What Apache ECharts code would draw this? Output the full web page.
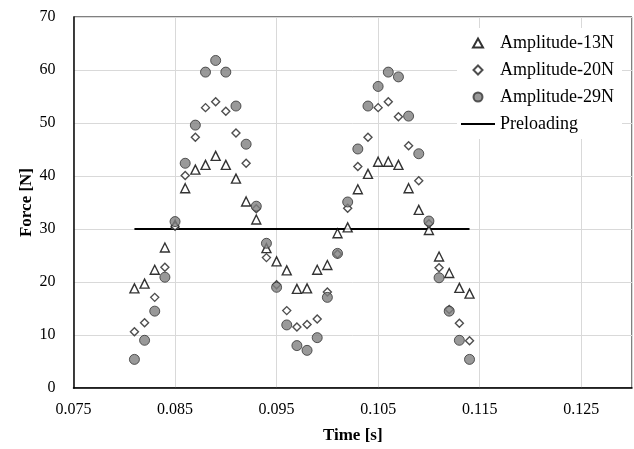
<!DOCTYPE html>
<html>
<head>
<meta charset="utf-8">
<script src="https://cdn.jsdelivr.net/npm/echarts@6/dist/echarts.min.js"></script>
<style>
  html, body { margin: 0; padding: 0; background: #fff; }
  #chart { width: 634px; height: 449px; }
</style>
</head>
<body>
<div id="chart"></div>
<script>
// Force vs time for three amplitudes, with the preload level.
const times = [
  0.081, 0.082, 0.083, 0.084, 0.085, 0.086, 0.087, 0.088, 0.089, 0.090,
  0.091, 0.092, 0.093, 0.094, 0.095, 0.096, 0.097, 0.098, 0.099, 0.100,
  0.101, 0.102, 0.103, 0.104, 0.105, 0.106, 0.107, 0.108, 0.109, 0.110,
  0.111, 0.112, 0.113, 0.114,
];

const amp13 = [
  18.8, 19.7, 22.3, 26.5, 30.8, 37.7, 41.2, 42.1, 43.8, 42.1,
  39.5, 35.2, 31.8, 26.4, 23.9, 22.2, 18.7, 18.8, 22.3, 23.2,
  29.2, 30.3, 37.5, 40.4, 42.7, 42.7, 42.1, 37.7, 33.6, 29.8,
  24.8, 21.7, 18.9, 17.8,
];

const amp20 = [
  10.6, 12.3, 17.1, 22.8, 30.5, 40.1, 47.3, 52.9, 54.0, 52.2,
  48.1, 42.4, 33.8, 24.6, 19.5, 14.6, 11.5, 12.0, 13.0, 18.1,
  25.3, 33.9, 41.8, 47.3, 52.9, 54.0, 51.2, 45.7, 39.1, 31.0,
  22.7, 14.8, 12.2, 8.9,
];

const amp29 = [
  5.4, 9.0, 14.5, 20.9, 31.4, 42.4, 49.6, 59.6, 61.8, 59.6,
  53.2, 46.0, 34.3, 27.3, 19.0, 11.9, 8.0, 7.1, 9.5, 17.1,
  25.4, 35.1, 45.1, 53.2, 56.9, 59.6, 58.7, 51.3, 44.2, 31.5,
  20.8, 14.5, 9.0, 5.4,
];

const preloadTimes = [0.081, 0.114];
const preloadForce = [30, 30];

const seriesNames = ["Amplitude-13N", "Amplitude-20N", "Amplitude-29N", "Preloading"];

const FONT = "'Liberation Serif', 'Times New Roman', serif";

// legend icons as paths so they keep their aspect inside the icon box
const ICON_TRIANGLE = "path://M5,0 L10,9 L0,9 Z";
const ICON_DIAMOND = "path://M4,0 L8,4 L4,8 L0,4 Z";
const ICON_LINE = "path://M0,0 L34,0 L34,2 L0,2 Z";

function pairs(xs, ys) {
  return xs.map((x, i) => [x, ys[i]]);
}

const chart = echarts.init(document.getElementById("chart"));

chart.setOption({
  backgroundColor: "#fff",
  animation: false,
  textStyle: { fontFamily: FONT },
  grid: {
    left: 73.5,
    right: 2,
    top: 17,
    bottom: 59,
    show: true,
    borderColor: "#000",
    borderWidth: 1,
  },
  legend: {
    orient: "vertical",
    left: 457,
    top: 28,
    padding: [6, 8, 6, 4],
    backgroundColor: "#fff",
    itemWidth: 34,
    itemHeight: 9,
    itemGap: 9,
    symbolKeepAspect: true,
    data: [
      { name: seriesNames[0], icon: ICON_TRIANGLE },
      { name: seriesNames[1], icon: ICON_DIAMOND },
      { name: seriesNames[2], icon: "circle" },
      { name: seriesNames[3], icon: ICON_LINE, itemStyle: { color: "#000", borderWidth: 0 } },
    ],
    textStyle: { fontFamily: FONT, fontSize: 18, color: "#000" },
  },
  xAxis: {
    type: "value",
    min: 0.075,
    max: 0.13,
    interval: 0.01,
    name: "Time [s]",
    nameLocation: "middle",
    nameGap: 39,
    nameMoveOverlap: false,
    nameTextStyle: { fontFamily: FONT, fontSize: 17, fontWeight: "bold", color: "#000" },
    axisLine: { show: true, onZero: false, lineStyle: { color: "#000", width: 1.5 } },
    axisTick: { show: false },
    axisLabel: {
      fontFamily: FONT,
      fontSize: 16,
      color: "#000",
      margin: 14,
      showMaxLabel: false,
      formatter: (v) => v.toFixed(3),
    },
    splitLine: { show: true, lineStyle: { color: "#d9d9d9", width: 1 } },
  },
  yAxis: {
    type: "value",
    min: 0,
    max: 70,
    interval: 10,
    name: "Force [N]",
    nameLocation: "middle",
    nameGap: 38,
    nameMoveOverlap: false,
    nameTextStyle: { fontFamily: FONT, fontSize: 17, fontWeight: "bold", color: "#000" },
    axisLine: { show: true, lineStyle: { color: "#000", width: 1.5 } },
    axisTick: { show: false },
    axisLabel: { fontFamily: FONT, fontSize: 16, color: "#000", margin: 18 },
    splitLine: { show: true, lineStyle: { color: "#d9d9d9", width: 1 } },
  },
  series: [
    {
      name: seriesNames[0],
      type: "scatter",
      symbol: "triangle",
      symbolSize: [9, 9],
      itemStyle: { color: "#fff", borderColor: "#000", borderWidth: 1.4 },
      data: pairs(times, amp13),
    },
    {
      name: seriesNames[1],
      type: "scatter",
      symbol: "diamond",
      symbolSize: [8, 8],
      itemStyle: { color: "#fff", borderColor: "#222", borderWidth: 1.4 },
      data: pairs(times, amp20),
    },
    {
      name: seriesNames[2],
      type: "scatter",
      symbol: "circle",
      symbolSize: 10,
      itemStyle: { color: "#808080", borderColor: "#333", borderWidth: 1 },
      data: pairs(times, amp29),
    },
    {
      name: seriesNames[3],
      type: "line",
      symbol: "none",
      lineStyle: { color: "#000", width: 2 },
      itemStyle: { color: "#000" },
      data: pairs(preloadTimes, preloadForce),
      z: 1,
    },
  ],
});

window.addEventListener("resize", () => chart.resize());
</script>
</body>
</html>
